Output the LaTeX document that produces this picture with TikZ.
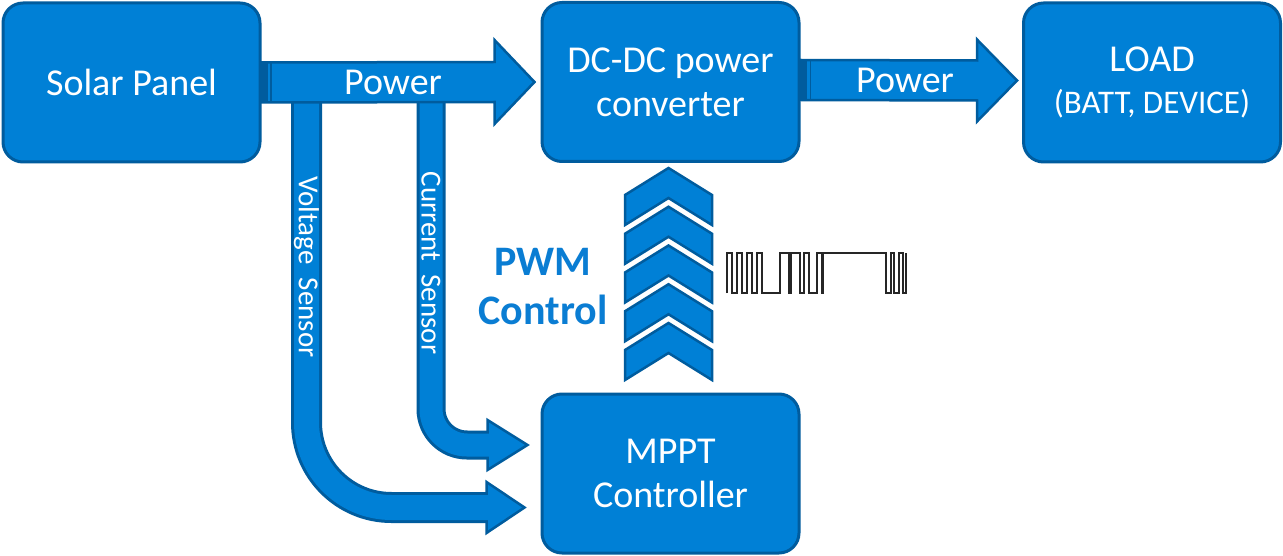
\documentclass[tikz,border=0pt]{standalone}
\usepackage{fontspec}
\setmainfont{Carlito}
\usetikzlibrary{calc}
\definecolor{fillblue}{HTML}{0080D6}
\definecolor{edgeblue}{HTML}{005C9E}
\definecolor{textblue}{HTML}{0A7DD3}
\begin{document}
\begin{tikzpicture}[x=1pt,y=-1pt,
  box/.style={draw=edgeblue, fill=fillblue, line width=3pt, rounded corners=20pt,
    text=white, align=center, font=\fontsize{38}{44}\selectfont, inner sep=0pt,
    minimum width=257pt, minimum height=159pt},
  blockarrow/.style={draw=edgeblue, fill=fillblue, line width=2.5pt, line join=miter},
  chev/.style={draw=edgeblue, fill=fillblue, line width=2.5pt, line join=miter},
  wlabel/.style={text=white, inner sep=0pt},
  wave/.style={draw=black!85, line width=1.2pt}]
\useasboundingbox (0,0) rectangle (1283,556);
\fill[white] (0,0) rectangle (1283,556);

% boxes
\node[box] (solar) at (131.5,82.5) {Solar Panel};
\node[box] (dcdc) at (670.5,82) {DC-DC power\\converter};
\node[box] (load) at (1152,82.5) {LOAD\\[-2pt]{\fontsize{33}{36}\selectfont (BATT, DEVICE)}};
\node[box] (mppt) at (670.5,473.5) {MPPT\\Controller};

% sensor arrows
\coordinate (vtop) at (306.5,95);
\coordinate (ctop) at (431,95);
\coordinate (vtip) at ($(mppt.west)+(-16,34)$);
\coordinate (ctip) at ($(mppt.west)+(-13,-28.5)$);

\draw[edgeblue, line width=31pt, rounded corners=85pt] (vtop) |- ($(vtip)+(-38,0)$);
\draw[blockarrow] ($(vtip)+(-38,-25.5)$) -- (vtip) -- ($(vtip)+(-38,25.5)$) -- cycle;
\draw[fillblue, line width=25pt, rounded corners=85pt] (vtop) |- ($(vtip)+(-36,0)$);

\draw[edgeblue, line width=29pt, rounded corners=36pt] (ctop) |- ($(ctip)+(-40,0)$);
\draw[blockarrow] ($(ctip)+(-40,-25)$) -- (ctip) -- ($(ctip)+(-40,25)$) -- cycle;
\draw[fillblue, line width=23pt, rounded corners=36pt] (ctop) |- ($(ctip)+(-38,0)$);

\node[wlabel, rotate=-90, font=\fontsize{29}{30}\selectfont] (vlabel) at (306.5,267) {Voltage\ \ Sensor};
\node[wlabel, rotate=-90, font=\fontsize{29}{30}\selectfont] (clabel) at (431,263) {Current\ \ Sensor};

% power arrows
\draw[blockarrow] ($(solar.east)+(0,-20)$) -- ($(dcdc.west)+(-46,-20)$) -- ($(dcdc.west)+(-46,-42)$)
  -- ($(dcdc.west)+(-6,0)$) -- ($(dcdc.west)+(-46,42)$) -- ($(dcdc.west)+(-46,20)$)
  -- ($(solar.east)+(0,20)$) -- cycle;
\fill[edgeblue] ($(solar.east)+(0,-19)$) rectangle ($(solar.east)+(6,19)$);
\draw[edgeblue, line width=1.5pt] ($(solar.east)+(9.5,-19)$) -- ($(solar.east)+(9.5,19)$);
\node[wlabel, font=\fontsize{38}{40}\selectfont] (pw1) at (393,82) {Power};

\draw[blockarrow] ($(dcdc.east)+(0,-22)$) -- ($(load.west)+(-45,-22)$) -- ($(load.west)+(-45,-43)$)
  -- ($(load.west)+(-5,-2)$) -- ($(load.west)+(-45,39)$) -- ($(load.west)+(-45,18)$)
  -- ($(dcdc.east)+(0,18)$) -- cycle;
\fill[edgeblue] ($(dcdc.east)+(0,-21)$) rectangle ($(dcdc.east)+(6,17)$);
\draw[edgeblue, line width=1.5pt] ($(dcdc.east)+(10,-21)$) -- ($(dcdc.east)+(10,17)$);
\node[wlabel, font=\fontsize{38}{40}\selectfont] (pw2) at (905,80) {Power};

% chevrons
\foreach \i in {0,...,4} {
  \pgfmathsetmacro\c{168+38.75*\i}
  \draw[chev] (625,\c+27) -- (668.5,\c) -- (712,\c+27) -- (712,\c+57) -- (668.5,\c+30) -- (625,\c+57) -- cycle;
}

% PWM label
\node[text=textblue, font=\bfseries\fontsize{42}{49}\selectfont, align=center, inner sep=0pt] (pwm) at (543,287) {PWM\\Control};

% PWM waveform
\draw[wave] (727,293) -- (727,253) -- (732,253) -- (732,293) -- (737,293) -- (737,253) -- (742,253) -- (742,293)
 -- (747,293) -- (747,253) -- (752,253) -- (752,293) -- (757,293) -- (757,253) -- (762,253) -- (762,293)
 -- (780,293) -- (780,253) -- (789,253) -- (789,293) -- (791,293) -- (791,253) -- (800,253) -- (800,293)
 -- (804,293) -- (804,253) -- (809,253) -- (809,293) -- (817,293) -- (817,253) -- (822,253) -- (822,293)
 -- (823,293) -- (823,253) -- (886,253) -- (886,293)
 -- (891,293) -- (891,253) -- (894,253) -- (894,293) -- (899,293) -- (899,253) -- (903,253) -- (903,293)
 -- (906,293) -- (906,253);
\end{tikzpicture}
\end{document}
